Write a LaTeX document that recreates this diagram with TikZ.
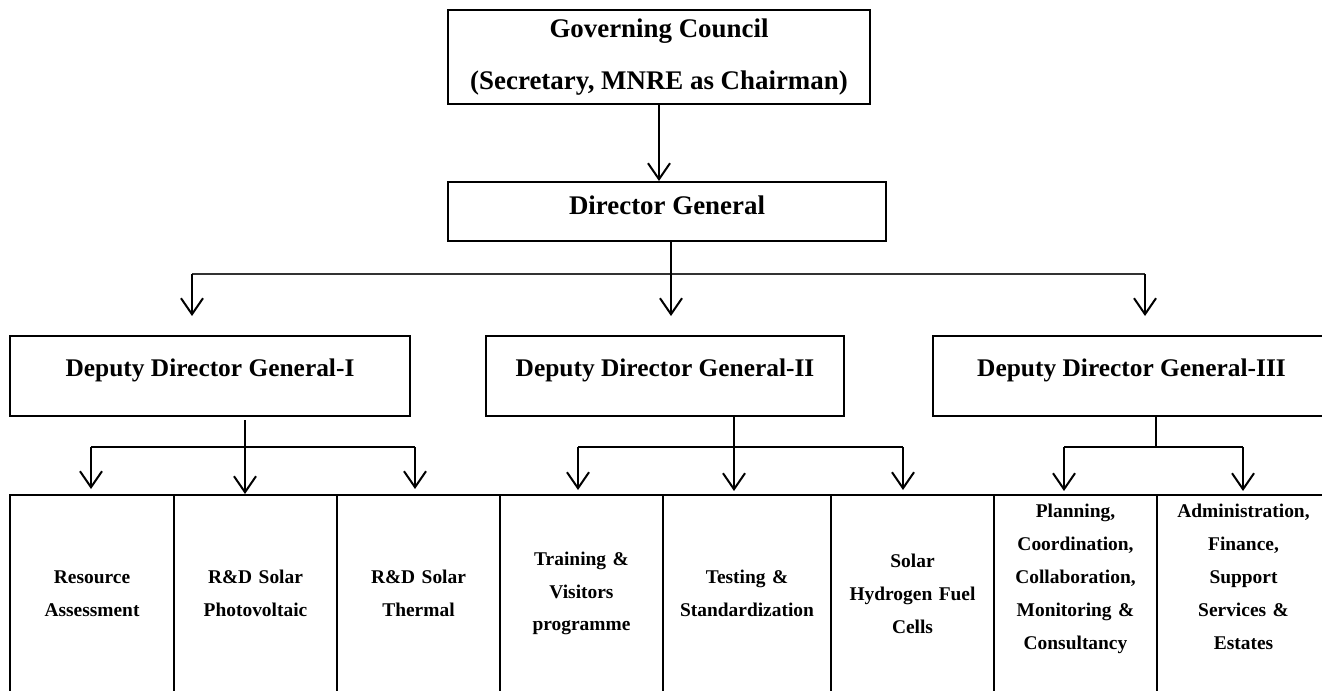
\documentclass[tikz,border=0pt]{standalone}
\usepackage{fontspec}
\setmainfont{Liberation Serif}
\usetikzlibrary{arrows.meta, positioning, calc}

\begin{document}
\begin{tikzpicture}[x=1bp, y=-1bp, >={Straight Barb[length=16bp, width=22bp]},
  box/.style={draw, line width=2bp, inner sep=0pt, align=center, font=\bfseries\fontsize{27}{53}\selectfont},
  ddgbox/.style={box, minimum height=80bp, font=\bfseries\fontsize{25.5}{30}\selectfont, text height=18bp, text depth=18bp},
  unitbox/.style={box, minimum height=197bp, text width=150bp, font=\bfseries\fontsize{19.5}{33}\selectfont},
  arr/.style={->, line width=2bp},
  link/.style={line width=2bp},
  bar/.style={line width=1.2bp, black!80}]
  \useasboundingbox (0,0) rectangle (1322,690);
  \clip (0,0) rectangle (1322,690);
  % top of the chart
  \node[box, minimum width=422bp, minimum height=94bp] (gc) at (659,57) {Governing Council\\(Secretary, MNRE as Chairman)};
  \node[box, minimum width=438bp, minimum height=59bp, text height=18bp, text depth=13bp] (dg) at (667,211.5) {Director General};
  % deputies
  \node[ddgbox, minimum width=400bp] (ddg1) at (210,376) {Deputy Director General-I};
  \node[ddgbox, minimum width=358bp] (ddg2) at (665,376) {Deputy Director General-II};
  \node[ddgbox, minimum width=397bp] (ddg3) at (1131.5,376) {Deputy Director General-III};
  % divisions
  \node[unitbox, minimum width=164bp] (ra) at (92,593.5) {Resource\\Assessment};
  \node[unitbox, minimum width=163bp] (pv) at (255.5,593.5) {R\&D Solar\\Photovoltaic};
  \node[unitbox, minimum width=163bp] (st) at (418.5,593.5) {R\&D Solar\\Thermal};
  \node[unitbox, minimum width=163bp] (tv) at (581.5,593.5) {Training \&\\Visitors\\programme};
  \node[unitbox, minimum width=168bp] (ts) at (747,593.5) {Testing \&\\Standardization};
  \node[unitbox, minimum width=163bp] (hf) at (912.5,593.5) {Solar\\Hydrogen Fuel\\Cells};
  \node[unitbox, minimum width=163bp, text depth=165bp] (pc) at (1075.5,593.5) {Planning,\\Coordination,\\Collaboration,\\Monitoring \&\\Consultancy};
  \node[unitbox, minimum width=173bp, text depth=165bp] (af) at (1243.5,593.5) {Administration,\\Finance,\\Support\\Services \&\\Estates};

  \draw[arr] (gc.south) -- (gc.south |- dg.north);

  \coordinate (toI) at (192,274);
  \coordinate (toII) at (671,274);
  \coordinate (toIII) at (1145,274);
  \draw[bar] (toI) -- (toIII);
  \draw[arr, shorten >=19bp] (toI) -- (toI |- ddg1.north);
  \draw[arr, shorten >=19bp] (toII |- dg.south) -- (toII |- ddg2.north);
  \draw[arr, shorten >=19bp] (toIII) -- (toIII |- ddg3.north);

  % branches of DDG-I
  \coordinate (iA) at (91,447);
  \coordinate (iM) at (245,447);
  \coordinate (iB) at (415,447);
  \draw[link] (iA) -- (iB);
  \draw[arr, shorten >=5bp] (iA) -- (iA |- ra.north);
  \draw[arr, shorten <=3bp] (iM |- ddg1.south) -- (iM |- pv.north);
  \draw[arr, shorten >=5bp] (iB) -- (iB |- st.north);

  % branches of DDG-II
  \coordinate (iiA) at (578,447);
  \coordinate (iiM) at (734,447);
  \coordinate (iiB) at (903,447);
  \draw[link] (iiA) -- (iiB);
  \draw[arr, shorten >=4bp] (iiA) -- (iiA |- tv.north);
  \draw[arr, shorten >=3bp] (iiM |- ddg2.south) -- (iiM |- ts.north);
  \draw[arr, shorten >=4bp] (iiB) -- (iiB |- hf.north);

  % branches of DDG-III
  \coordinate (iiiA) at (1064,447);
  \coordinate (iiiM) at (1156,447);
  \coordinate (iiiB) at (1243,447);
  \draw[link] (iiiA) -- (iiiB);
  \draw[link] (iiiM |- ddg3.south) -- (iiiM);
  \draw[arr, shorten >=3bp] (iiiA) -- (iiiA |- pc.north);
  \draw[arr, shorten >=3bp] (iiiB) -- (iiiB |- af.north);
\end{tikzpicture}
\end{document}
